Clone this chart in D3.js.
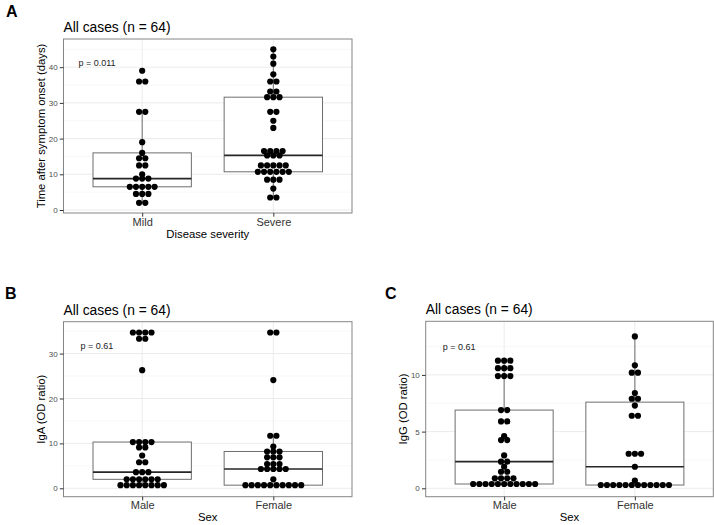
<!DOCTYPE html>
<html>
<head>
<meta charset="utf-8">
<script src="https://cdn.jsdelivr.net/npm/d3@7"></script>
<style>
  body { margin: 0; background: #fff; }
  text { font-family: "Liberation Sans", Arial, Helvetica, sans-serif; }
</style>
</head>
<body>
<div id="chart"></div>
<script>
// categories
const severityGroups = ['Mild', 'Severe'];
const sexGroups = ['Male', 'Female'];

// days after symptom onset, one entry per case
const daysMild = [39, 36, 36, 27.5, 27.5, 19, 16, 14.5, 14.5, 12.5, 12.5, 10,
  8.8, 8.8, 8.8, 6.5, 6.5, 6.5, 6.5, 6.5, 4.5, 4.5, 4.5, 2, 2];
const daysSevere = [45, 43, 41, 38, 36, 36, 33.2, 33.2, 31.6, 31.6, 31.6, 27.5, 27.5, 25, 23,
  16.5, 16.5, 16.5, 16.5, 15.3, 15.3, 15.3, 12.5, 12.5, 12.5, 12.5, 12.5,
  10.7, 10.7, 10.7, 10.7, 10.7, 10.7, 8.5, 8.5, 8.5, 6, 3.5, 3.5];

// IgA OD ratio
const igaMale = [34.7, 34.7, 34.7, 34.7, 33.3, 33.3, 26.3, 10.3, 10.3, 10.3, 10.3, 9.1, 9.1,
  7.3, 5.8, 5.8, 3.6, 3.6, 3.6, 2.0, 2.0, 2.0, 2.0, 2.0, 2.0,
  0.7, 0.7, 0.7, 0.7, 0.7, 0.7, 0.7, 0.7];
const igaFemale = [34.7, 34.7, 24.1, 11.7, 11.7, 9.3, 8.2, 8.2, 8.2, 6.9, 6.9, 6.9,
  5.4, 5.4, 5.4, 4.3, 4.3, 4.3, 4.3, 4.3, 2.0,
  0.7, 0.7, 0.7, 0.7, 0.7, 0.7, 0.7, 0.7, 0.7, 0.7];

// IgG OD ratio
const iggMale = [11.26, 11.26, 11.26, 10.6, 10.6, 10.6, 9.9, 9.9, 9.9, 6.9, 6.9, 5.9, 5.9,
  4.6, 4.25, 4.25, 2.9, 2.35, 2.35, 1.9, 1.46, 1.46, 0.88, 0.88, 0.88, 0.88,
  0.38, 0.38, 0.38, 0.38, 0.38, 0.38, 0.38, 0.38, 0.38, 0.38, 0.38];
const iggFemale = [13.4, 10.85, 10.2, 10.2, 8.4, 7.9, 7.9, 7.3, 6.4, 6.4, 3.05, 3.05, 3.05,
  1.9, 0.67, 0.29, 0.29, 0.29, 0.29, 0.29, 0.29, 0.29, 0.29, 0.29, 0.29, 0.29, 0.29];

// axis ticks
const daysTicks = [0, 10, 20, 30, 40];
const daysMinor = [5, 15, 25, 35, 45];
const igaTicks = [0, 10, 20, 30];
const igaMinor = [5, 15, 25, 35];
const iggTicks = [0, 5, 10];
const iggMinor = [2.5, 7.5, 12.5];

const W = 714, H = 525;
const dotD = 6.2;

const svg = d3.select('#chart')
  .append('svg')
  .attr('width', W)
  .attr('height', H);

svg.append('rect').attr('width', W).attr('height', H).attr('fill', '#fff');

// ggplot style box stats (type 7 quantiles, 1.5 IQR whiskers)
function boxStats(vals) {
  const s = vals.slice().sort(d3.ascending);
  const q1 = d3.quantileSorted(s, 0.25);
  const med = d3.quantileSorted(s, 0.5);
  const q3 = d3.quantileSorted(s, 0.75);
  const iqr = q3 - q1;
  const lo = d3.min(s.filter(v => v >= q1 - 1.5 * iqr));
  const hi = d3.max(s.filter(v => v <= q3 + 1.5 * iqr));
  return { q1, med, q3, lo, hi };
}

function drawPanel(cfg) {
  const x = d3.scalePoint().domain(cfg.groups).range([cfg.left, cfg.right]).padding(0.6);
  const y = d3.scaleLinear().domain(cfg.yDomain).range([cfg.bottom, cfg.top]);
  const step = x.step();
  const g = svg.append('g');

  // minor + major gridlines
  g.selectAll('.minor')
    .data(cfg.minor)
    .join('line')
    .attr('x1', cfg.left).attr('x2', cfg.right)
    .attr('y1', d => y(d)).attr('y2', d => y(d))
    .attr('stroke', '#f3f3f3').attr('stroke-width', 0.6);
  g.selectAll('.major')
    .data(cfg.ticks)
    .join('line')
    .attr('x1', cfg.left).attr('x2', cfg.right)
    .attr('y1', d => y(d)).attr('y2', d => y(d))
    .attr('stroke', '#ebebeb').attr('stroke-width', 1);
  g.selectAll('.vgrid')
    .data(cfg.groups)
    .join('line')
    .attr('x1', d => x(d)).attr('x2', d => x(d))
    .attr('y1', cfg.top).attr('y2', cfg.bottom)
    .attr('stroke', '#ebebeb').attr('stroke-width', 1);

  // boxes
  const boxW = step * 0.75;
  cfg.groups.forEach((grp, k) => {
    const b = boxStats(cfg.series[k]);
    const cx = x(grp);
    g.append('line')
      .attr('x1', cx).attr('x2', cx)
      .attr('y1', y(b.hi)).attr('y2', y(b.q3))
      .attr('stroke', '#6e6e6e').attr('stroke-width', 1);
    g.append('line')
      .attr('x1', cx).attr('x2', cx)
      .attr('y1', y(b.q1)).attr('y2', y(b.lo))
      .attr('stroke', '#6e6e6e').attr('stroke-width', 1);
    g.append('rect')
      .attr('x', cx - boxW / 2).attr('width', boxW)
      .attr('y', y(b.q3)).attr('height', y(b.q1) - y(b.q3))
      .attr('fill', '#fff')
      .attr('stroke', '#6e6e6e').attr('stroke-width', 1);
    g.append('line')
      .attr('x1', cx - boxW / 2).attr('x2', cx + boxW / 2)
      .attr('y1', y(b.med)).attr('y2', y(b.med))
      .attr('stroke', '#262626').attr('stroke-width', 1.6);

    // dots, stacked centred for each binned value
    const dots = [];
    d3.groups(cfg.series[k], v => v).forEach(([v, arr]) => {
      arr.forEach((_, i) => dots.push({ v, off: i - (arr.length - 1) / 2 }));
    });
    g.selectAll(null)
      .data(dots)
      .join('circle')
      .attr('cx', d => cx + d.off * dotD)
      .attr('cy', d => y(d.v))
      .attr('r', dotD / 2)
      .attr('fill', '#000');
  });

  // panel border
  g.append('rect')
    .attr('x', cfg.left).attr('y', cfg.top)
    .attr('width', cfg.right - cfg.left).attr('height', cfg.bottom - cfg.top)
    .attr('fill', 'none').attr('stroke', '#858585').attr('stroke-width', 1);

  // y axis
  g.append('g')
    .attr('transform', `translate(${cfg.left},0)`)
    .call(d3.axisLeft(y).tickValues(cfg.ticks).tickSize(3.7).tickPadding(2.2))
    .call(a => a.select('.domain').remove())
    .call(a => a.selectAll('.tick line').attr('stroke', '#333'))
    .call(a => a.selectAll('.tick text')
      .attr('fill', '#4d4d4d')
      .style('font-size', '8px')
      .style('font-family', '"Liberation Sans", Arial, sans-serif'));

  // x axis
  g.append('g')
    .attr('transform', `translate(0,${cfg.bottom})`)
    .call(d3.axisBottom(x).tickSize(3.7).tickPadding(1))
    .call(a => a.select('.domain').remove())
    .call(a => a.selectAll('.tick line').attr('stroke', '#333'))
    .call(a => a.selectAll('.tick text')
      .attr('fill', '#333')
      .style('font-size', '11px')
      .style('font-family', '"Liberation Sans", Arial, sans-serif'));

  // titles
  g.append('text')
    .attr('x', cfg.letterX).attr('y', cfg.letterY)
    .style('font-size', '16px').style('font-weight', 'bold')
    .text(cfg.letter);
  g.append('text')
    .attr('x', cfg.left).attr('y', cfg.top - 7)
    .style('font-size', '13.8px')
    .text('All cases (n = 64)');
  g.append('text')
    .attr('text-anchor', 'middle')
    .attr('x', (cfg.left + cfg.right) / 2).attr('y', cfg.bottom + 24.5)
    .style('font-size', '11.3px')
    .text(cfg.xTitle);
  g.append('text')
    .attr('text-anchor', 'middle')
    .attr('transform', `translate(${cfg.left - 18.5},${(cfg.top + cfg.bottom) / 2}) rotate(-90)`)
    .style('font-size', '11.3px')
    .text(cfg.yTitle);

  // p value annotation
  g.append('text')
    .attr('text-anchor', 'middle')
    .attr('x', cfg.left + step * 0.255)
    .attr('y', y(cfg.pY))
    .attr('dy', '0.35em')
    .attr('fill', '#222')
    .style('font-size', '9px')
    .text(cfg.pText);
}

drawPanel({
  left: 63.5, right: 352, top: 39, bottom: 213,
  groups: severityGroups, series: [daysMild, daysSevere],
  yDomain: [-0.84, 47.9], ticks: daysTicks, minor: daysMinor,
  letter: 'A', letterX: 6, letterY: 17,
  xTitle: 'Disease severity', yTitle: 'Time after symptom onset (days)',
  pText: 'p = 0.011', pY: 41.2
});

drawPanel({
  left: 63.5, right: 352, top: 321.7, bottom: 496.7,
  groups: sexGroups, series: [igaMale, igaFemale],
  yDomain: [-1.87, 37.1], ticks: igaTicks, minor: igaMinor,
  letter: 'B', letterX: 5, letterY: 299,
  xTitle: 'Sex', yTitle: 'IgA (OD ratio)',
  pText: 'p = 0.61', pY: 31.7
});

drawPanel({
  left: 425.7, right: 713.3, top: 321.3, bottom: 496.7,
  groups: sexGroups, series: [iggMale, iggFemale],
  yDomain: [-0.74, 14.73], ticks: iggTicks, minor: iggMinor,
  letter: 'C', letterX: 385, letterY: 299,
  xTitle: 'Sex', yTitle: 'IgG (OD ratio)',
  pText: 'p = 0.61', pY: 12.5
});
</script>
</body>
</html>
